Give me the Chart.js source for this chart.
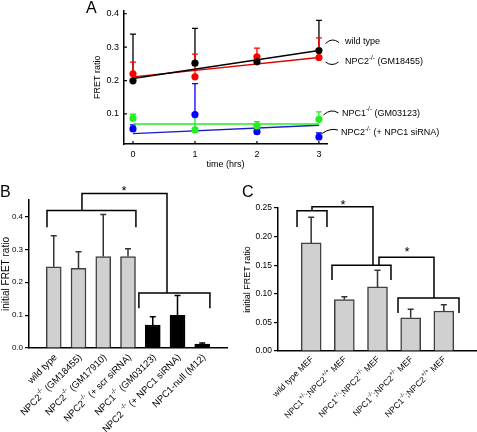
<!DOCTYPE html>
<html>
<head>
<meta charset="utf-8">
<script src="https://cdn.jsdelivr.net/npm/chart.js@4.4.0/dist/chart.umd.min.js"></script>
<style>
  html, body { margin: 0; padding: 0; background: #fff; }
  #wrap { position: relative; width: 477px; height: 432px; overflow: hidden; }
  canvas { position: absolute; }
</style>
</head>
<body>
<div id="wrap">
  <canvas id="chartA" width="477" height="175" style="left:0px;top:0px"></canvas>
  <canvas id="chartB" width="235" height="257" style="left:0px;top:175px"></canvas>
  <canvas id="chartC" width="242" height="257" style="left:235px;top:175px"></canvas>
</div>
<script>
const FONT = '"Liberation Sans", Arial, Helvetica, sans-serif';
Chart.defaults.font.family = FONT;
Chart.defaults.color = '#000';
Chart.defaults.animation = false;
Chart.defaults.plugins.legend.display = false;
Chart.defaults.plugins.tooltip.enabled = false;

// ---- Panel A data (FRET ratio vs time) ----
const hours = [0, 1, 2, 3];
const fitHours = [0, 3];
const wildType = [0.199, 0.252, 0.256, 0.290];
const wildTypeErr = [0.140, 0.104, 0.008, 0.090];
const wildTypeFit = [0.206, 0.290];
const npc2 = [0.220, 0.211, 0.271, 0.269];
const npc2Err = [0.035, 0.068, 0.026, 0.059];
const npc2Fit = [0.211, 0.269];
const npc1 = [0.087, 0.052, 0.064, 0.084];
const npc1Err = [0.012, 0.040, 0.013, 0.022];
const npc1Fit = [0.070, 0.070];
const npc2Sirna = [0.055, 0.098, 0.047, 0.031];
const npc2SirnaErr = [0.012, 0.093, 0.008, 0.012];
const npc2SirnaFit = [0.041, 0.066];
const hourTicks = [0, 1, 2, 3];
const ratioTicksA = [0.1, 0.2, 0.3, 0.4];

// ---- Panel B data ----
const bLabels = ['wild type', 'NPC2^{-/-} (GM18455)', 'NPC2^{-/-} (GM17910)', 'NPC2^{-/-} (+ scr siRNA)',
  'NPC1^{-/-} (GM03123)', 'NPC2 ^{-/-} (+ NPC1 siRNA)', 'NPC1-null (M12)'];
const bValues = [0.247, 0.242, 0.278, 0.278, 0.070, 0.099, 0.012];
const bErrors = [0.094, 0.051, 0.128, 0.024, 0.025, 0.061, 0.003];
const bTicks = [0, 0.1, 0.2, 0.3, 0.4];

// ---- Panel C data ----
const cLabels = ['wild type MEF', 'NPC1^{+/-};NPC2^{+/+} MEF', 'NPC1^{+/-};NPC2^{+/-} MEF',
  'NPC1^{-/-};NPC2^{+/-} MEF', 'NPC1^{-/-};NPC2^{+/+} MEF'];
const cValues = [0.189, 0.090, 0.112, 0.058, 0.070];
const cErrors = [0.045, 0.005, 0.029, 0.015, 0.011];
const cTicks = [0, 0.05, 0.10, 0.15, 0.20, 0.25];

const seriesA = [
  { values: wildType, errors: wildTypeErr, fit: wildTypeFit, color: '#000000', line: '#000000' },
  { values: npc2, errors: npc2Err, fit: npc2Fit, color: '#ff0000', line: '#e00000' },
  { values: npc1, errors: npc1Err, fit: npc1Fit, color: '#22ee22', line: '#22ee22' },
  { values: npc2Sirna, errors: npc2SirnaErr, fit: npc2SirnaFit, color: '#0000ff', line: '#1a1acc' }
];

// text with ^{...} superscript parts
function splitRich(s) {
  const parts = [];
  const re = /\^\{([^}]*)\}/g;
  let last = 0, m;
  while ((m = re.exec(s))) {
    if (m.index > last) parts.push([s.slice(last, m.index), false]);
    parts.push([m[1], true]);
    last = re.lastIndex;
  }
  if (last < s.length) parts.push([s.slice(last), false]);
  return parts;
}

function drawRich(ctx, s, x, y, size, align) {
  const parts = splitRich(s);
  const fontFor = sup => (sup ? size * 0.7 : size) + 'px ' + FONT;
  let w = 0;
  parts.forEach(p => { ctx.font = fontFor(p[1]); w += ctx.measureText(p[0]).width; });
  let cx = align === 'right' ? x - w : x;
  ctx.textAlign = 'left';
  parts.forEach(p => {
    ctx.font = fontFor(p[1]);
    ctx.fillText(p[0], cx, p[1] ? y - size * 0.42 : y);
    cx += ctx.measureText(p[0]).width;
  });
}

const fixedSize = (w, h) => scale => {
  if (w !== undefined) scale.width = w;
  if (h !== undefined) scale.height = h;
};

// ================= Panel A =================
const aNotes = [
  { text: 'wild type', x: 345, y: 42, arc: [325.5, 43.5, 339, 42.5, -3] },
  { text: 'NPC2^{-/-} (GM18455)', x: 345, y: 62, arc: [325.5, 62, 338.5, 62, 2.5] },
  { text: 'NPC1^{-/-} (GM03123)', x: 342, y: 113.5, arc: [323.5, 115, 338.5, 113, -3] },
  { text: 'NPC2^{-/-} (+ NPC1 siRNA)', x: 341, y: 133, arc: [322, 133.5, 338, 130, -2] }
];

const panelADecor = {
  id: 'panelADecor',
  beforeDatasetsDraw(chart) {
    const ctx = chart.ctx, xs = chart.scales.x, ys = chart.scales.y;
    ctx.save();
    ctx.lineWidth = 1.3;
    seriesA.forEach(s => {
      ctx.strokeStyle = s.color;
      hours.forEach((h, i) => {
        const px = xs.getPixelForValue(h);
        const y0 = ys.getPixelForValue(s.values[i]);
        const y1 = ys.getPixelForValue(s.values[i] + s.errors[i]);
        ctx.beginPath();
        ctx.moveTo(px, y0); ctx.lineTo(px, y1);
        ctx.moveTo(px - 3, y1); ctx.lineTo(px + 3, y1);
        ctx.stroke();
      });
    });
    ctx.restore();
  },
  afterDraw(chart) {
    const ctx = chart.ctx, area = chart.chartArea;
    const xs = chart.scales.x, ys = chart.scales.y;
    ctx.save();
    ctx.strokeStyle = '#000';
    ctx.lineWidth = 1.2;
    ctx.beginPath();
    ratioTicksA.forEach(v => {
      const py = ys.getPixelForValue(v);
      ctx.moveTo(area.left, py); ctx.lineTo(area.left + 3, py);
    });
    hourTicks.forEach(v => {
      const px = xs.getPixelForValue(v);
      ctx.moveTo(px, area.bottom); ctx.lineTo(px, area.bottom - 3);
    });
    ctx.stroke();

    ctx.fillStyle = '#000';
    ctx.textBaseline = 'middle';
    ctx.lineWidth = 1;
    aNotes.forEach(n => {
      const [x0, y0, x1, y1, bend] = n.arc;
      ctx.beginPath();
      ctx.moveTo(x0, y0);
      ctx.quadraticCurveTo((x0 + x1) / 2, (y0 + y1) / 2 + bend * 2, x1, y1);
      ctx.stroke();
      drawRich(ctx, n.text, n.x, n.y, 9, 'left');
    });
    ctx.font = '16px ' + FONT;
    ctx.textAlign = 'left';
    ctx.fillText('A', 86, 9);
    ctx.restore();
  }
};

const aDatasets = [];
seriesA.forEach(s => {
  aDatasets.push({
    data: hours.map((h, i) => ({ x: h, y: s.values[i] })),
    showLine: false,
    pointRadius: 3.6,
    pointBackgroundColor: s.color,
    pointBorderColor: s.color,
    pointBorderWidth: 0,
    order: 0
  });
  aDatasets.push({
    data: fitHours.map((h, i) => ({ x: h, y: s.fit[i] })),
    showLine: true,
    borderColor: s.line,
    borderWidth: 1.4,
    pointRadius: 0,
    order: 1
  });
});

new Chart(document.getElementById('chartA'), {
  type: 'scatter',
  data: { datasets: aDatasets },
  options: {
    responsive: false,
    devicePixelRatio: 1,
    layout: { padding: { left: 92, top: 5, right: 150, bottom: 0 } },
    scales: {
      x: {
        type: 'linear', min: -0.145, max: 3.13,
        afterBuildTicks: s => { s.ticks = hourTicks.map(v => ({ value: v })); },
        afterFit: fixedSize(undefined, 31),
        grid: { display: false, drawTicks: false },
        border: { display: true, color: '#000', width: 1.5 },
        ticks: { font: { size: 9 }, padding: 5, color: '#000' },
        title: { display: true, text: 'time (hrs)', font: { size: 9 }, padding: { top: 0, bottom: 5 } }
      },
      y: {
        min: 0.01, max: 0.41,
        afterBuildTicks: s => { s.ticks = ratioTicksA.map(v => ({ value: v })); },
        afterFit: fixedSize(32),
        grid: { display: false, drawTicks: false },
        border: { display: true, color: '#000', width: 1.5 },
        ticks: { font: { size: 9 }, padding: 5, color: '#000', callback: v => v.toFixed(1) },
        title: { display: true, text: 'FRET ratio', font: { size: 9 }, padding: { top: 0, bottom: 0 } }
      }
    }
  },
  plugins: [panelADecor]
});

// ================= shared bar helpers =================
function barDecor(id, letter, labels, values, errors, errColors, labelSize, dx, dy, paths, stars) {
  return {
    id: id,
    afterDatasetsDraw(chart) {
      const ctx = chart.ctx, xs = chart.scales.x, ys = chart.scales.y;
      ctx.save();
      ctx.lineWidth = 1.5;
      values.forEach((v, i) => {
        const px = xs.getPixelForValue(i + 1);
        const y0 = ys.getPixelForValue(v);
        const y1 = ys.getPixelForValue(v + errors[i]);
        ctx.strokeStyle = errColors[i];
        ctx.beginPath();
        ctx.moveTo(px, y0); ctx.lineTo(px, y1);
        ctx.moveTo(px - 3, y1); ctx.lineTo(px + 3, y1);
        ctx.stroke();
      });
      ctx.restore();
    },
    afterDraw(chart) {
      const ctx = chart.ctx, xs = chart.scales.x, ys = chart.scales.y;
      const bottom = chart.chartArea.bottom;
      ctx.save();
      ctx.fillStyle = '#000';
      ctx.textBaseline = 'middle';
      labels.forEach((lab, i) => {
        const px = xs.getPixelForValue(i + 1);
        ctx.save();
        ctx.translate(px + dx, bottom + dy);
        ctx.rotate(-Math.PI / 4);
        drawRich(ctx, lab, 0, 0, labelSize, 'right');
        ctx.restore();
      });
      // significance brackets
      ctx.strokeStyle = '#000';
      ctx.lineWidth = 1.5;
      paths.forEach(p => {
        ctx.beginPath();
        p.forEach((pt, k) => {
          const x = xs.getPixelForValue(pt[0]), y = ys.getPixelForValue(pt[1]);
          if (k === 0) ctx.moveTo(x, y); else ctx.lineTo(x, y);
        });
        ctx.stroke();
      });
      ctx.font = '13px ' + FONT;
      ctx.textAlign = 'center';
      stars.forEach(st => {
        ctx.fillText('*', xs.getPixelForValue(st[0]), ys.getPixelForValue(st[1]) + 3);
      });
      ctx.font = '16px ' + FONT;
      ctx.textAlign = 'left';
      ctx.fillText(letter[0], letter[1], letter[2]);
      ctx.restore();
    }
  };
}

function barChart(canvasId, labels, values, colors, borders, opts) {
  return new Chart(document.getElementById(canvasId), {
    type: 'bar',
    data: {
      labels: ['', ...labels.map((l, i) => 'c' + i), ''],
      datasets: [{
        data: [null, ...values, null],
        backgroundColor: ['#fff', ...colors, '#fff'],
        borderColor: ['#fff', ...borders, '#fff'],
        borderWidth: 1.5,
        barThickness: opts.barWidth
      }]
    },
    options: {
      responsive: false,
      devicePixelRatio: 1,
      layout: { padding: opts.padding },
      scales: {
        x: {
          offset: false,
          afterFit: fixedSize(undefined, opts.xHeight),
          grid: { display: false, drawTicks: false },
          border: { display: true, color: '#000', width: 1.5 },
          ticks: { display: false }
        },
        y: {
          min: 0, max: opts.max,
          afterBuildTicks: s => { s.ticks = opts.ticks.map(v => ({ value: v })); },
          afterFit: fixedSize(opts.yWidth),
          grid: { display: true, drawOnChartArea: false, drawTicks: true, tickLength: 4, color: '#000', lineWidth: 1.2 },
          border: { display: true, color: '#000', width: 1.5 },
          ticks: { font: { size: opts.tickSize }, padding: 2, color: '#000', callback: v => v.toFixed(opts.decimals) },
          title: { display: true, text: 'initial FRET ratio', font: { size: opts.titleSize }, padding: { top: 0, bottom: 0 } }
        }
      }
    },
    plugins: [opts.decor]
  });
}

// ================= Panel B =================
const GREY = '#d0d0d0', EDGE = '#404040';
const bFill = [GREY, GREY, GREY, GREY, '#000', '#000', '#000'];
const bEdge = [EDGE, EDGE, EDGE, EDGE, '#000', '#000', '#000'];
const bPaths = [
  [[0.727, 0.367], [0.727, 0.418], [4.32, 0.418], [4.32, 0.367]],
  [[2.14, 0.418], [2.14, 0.470], [5.576, 0.470], [5.576, 0.167]],
  [[4.44, 0.121], [4.44, 0.167], [7.31, 0.167], [7.31, 0.121]]
];
const bStars = [[3.84, 0.485]];

barChart('chartB', bLabels, bValues, bFill, bEdge, {
  barWidth: 15, padding: { left: 0, top: 25, right: 8, bottom: 0 },
  xHeight: 84, yWidth: 29, max: 0.45, ticks: bTicks, decimals: 1, tickSize: 8, titleSize: 10,
  decor: barDecor('decorB', ['B', 0, 18], bLabels, bValues, bErrors, ['#333', '#333', '#333', '#333', '#000', '#000', '#000'],
    9.5, 2, 8, bPaths, bStars)
});

// ================= Panel C =================
const cFill = [GREY, GREY, GREY, GREY, GREY];
const cEdge = [EDGE, EDGE, EDGE, EDGE, EDGE];
const cPaths = [
  [[0.573, 0.217], [0.573, 0.245], [1.477, 0.245], [1.477, 0.217]],
  [[1.025, 0.245], [1.025, 0.252], [2.864, 0.252], [2.864, 0.150]],
  [[1.628, 0.124], [1.628, 0.150], [3.407, 0.150], [3.407, 0.124]],
  [[3.045, 0.150], [3.045, 0.164], [4.703, 0.164], [4.703, 0.0927]],
  [[3.618, 0.0664], [3.618, 0.0927], [5.457, 0.0927], [5.457, 0.0664]]
];
const cStars = [[1.96, 0.260], [3.89, 0.178]];

barChart('chartC', cLabels, cValues, cFill, cEdge, {
  barWidth: 20, padding: { left: 7, top: 33, right: 0, bottom: 0 },
  xHeight: 81, yWidth: 36, max: 0.25, ticks: cTicks, decimals: 2, tickSize: 8.5, titleSize: 9,
  decor: barDecor('decorC', ['C', 7, 18], cLabels, cValues, cErrors, ['#333', '#333', '#333', '#333', '#333'],
    8.5, 1, 7, cPaths, cStars)
});
</script>
</body>
</html>
